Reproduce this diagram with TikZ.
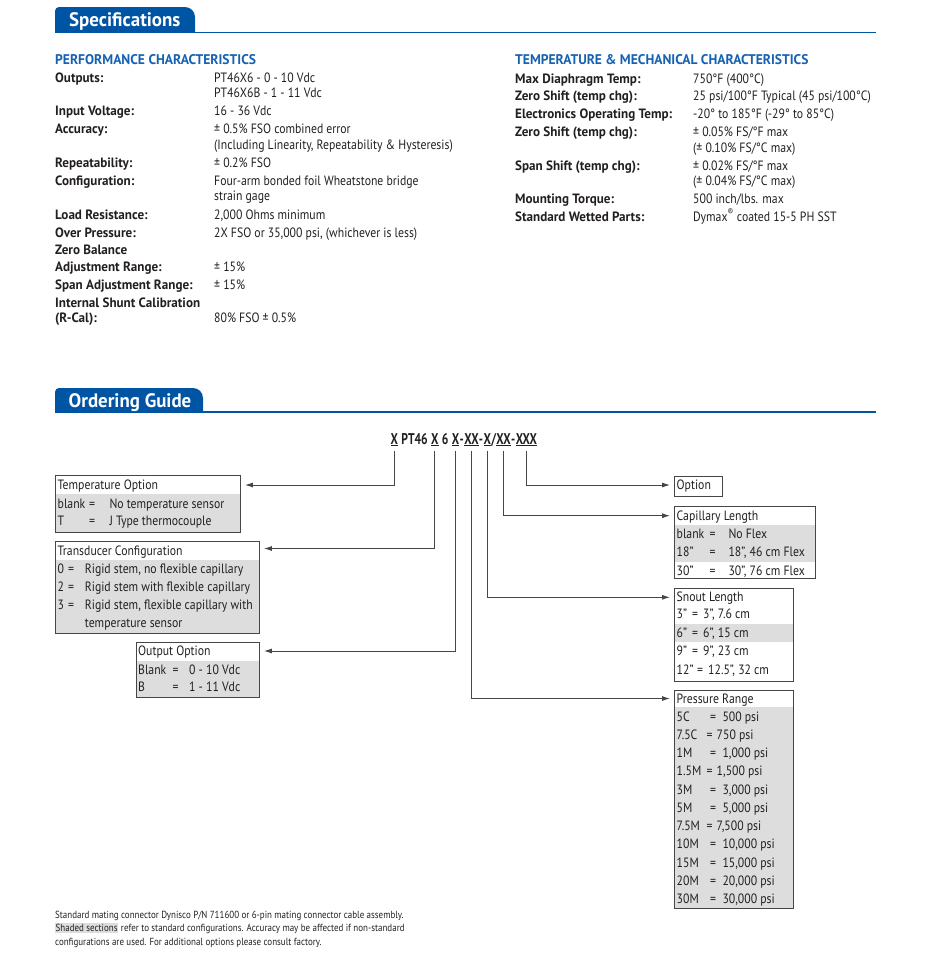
\documentclass[tikz,border=0pt]{standalone}
\usepackage{fontspec}
\setmainfont{PT Sans}[FakeStretch=0.87]
\newfontfamily\widebold{PT Sans}[FakeStretch=0.97]
\newfontfamily\codefont{PT Sans}[FakeStretch=0.75]
\usetikzlibrary{positioning,arrows.meta,backgrounds}
\definecolor{tabblue}{RGB}{0,84,164}
\definecolor{headblue}{RGB}{22,98,178}
\definecolor{ink}{RGB}{35,31,32}
\definecolor{boxgray}{RGB}{70,70,70}
\definecolor{rowshade}{RGB}{221,221,221}
\tikzset{
  lab/.style={anchor=base west, inner sep=0pt, text=ink, font=\fontsize{13.5}{15}\selectfont\widebold\bfseries},
  val/.style={anchor=base west, inner sep=0pt, text=ink, font=\fontsize{13.5}{15}\selectfont},
  head/.style={anchor=base west, inner sep=0pt, text=headblue, font=\fontsize{14}{16}\selectfont\widebold\bfseries},
  tabtxt/.style={anchor=base west, inner sep=0pt, text=white, font=\fontsize{19.5}{22}\selectfont\widebold\bfseries},
  guidebox/.style={draw=boxgray, line width=0.9pt, anchor=north west, inner sep=0pt},
  cell/.style={anchor=base west, inner sep=0pt, text=ink, font=\fontsize{13.5}{15}\selectfont},
  code/.style={inner sep=0pt, text=ink, font=\fontsize{15.5}{18}\selectfont\codefont\bfseries},
  arr/.style={draw=boxgray, line width=0.9pt, -{Latex[length=8pt,width=5pt]}, shorten >=4pt},
  foot/.style={anchor=base west, inner sep=0pt, text=ink, font=\fontsize{10.3}{12}\selectfont},
}

\begin{document}
\begin{tikzpicture}[x=1pt,y=-1pt]
  \useasboundingbox (0,0) rectangle (930,961);
  % section tabs
  \fill[tabblue] (55,32.5) [rounded corners=4pt] -- (55,7) [rounded corners=10pt] -- (195,7) [sharp corners] -- (195,32.5) -- cycle;
  \draw[tabblue, line width=1.5pt] (55,32.5) -- (876,32.5);
  \node[tabtxt] (spectab) at (69,26.7) {Specifications};
  \fill[tabblue] (55,412) [rounded corners=4pt] -- (55,388) [rounded corners=10pt] -- (203,388) [sharp corners] -- (203,412) -- cycle;
  \draw[tabblue, line width=1.5pt] (55,412) -- (876,412);
  \node[tabtxt] (ordtab) at (68.5,407) {Ordering Guide};

  % performance characteristics
  \node[head] (perfhead) at (55,64.5) {PERFORMANCE CHARACTERISTICS};
  \foreach \yb/\lab/\val [count=\i] in {
    82/Outputs:/PT46X6 - 0 - 10 Vdc,
    97//PT46X6B - 1 - 11 Vdc,
    115.5/Input Voltage:/16 - 36 Vdc,
    133.5/Accuracy:/{± 0.5\% FSO combined error},
    149//{(Including Linearity, Repeatability \& Hysteresis)},
    167.5/Repeatability:/{± 0.2\% FSO},
    185/Configuration:/Four-arm bonded foil Wheatstone bridge,
    200.5//strain gage,
    219/Load Resistance:/{2,000 Ohms minimum},
    237/Over Pressure:/{2X FSO or 35,000 psi, (whichever is less)},
    254.5/Zero Balance/,
    271/Adjustment Range:/{± 15\%},
    289/Span Adjustment Range:/{± 15\%},
    307/Internal Shunt Calibration/,
    322/(R-Cal):/{80\% FSO ± 0.5\%}
  }{
    \node[lab] (pl\i) at (55,\yb) {\lab};
    \node[val] (pv\i) at (214,\yb) {\val};
  }

  % temperature and mechanical characteristics
  \node[head] (mechhead) at (515,64) {TEMPERATURE \& MECHANICAL CHARACTERISTICS};
  \foreach \yb/\lab/\val [count=\i] in {
    83/Max Diaphragm Temp:/{750°F (400°C)},
    100/Zero Shift (temp chg):/{25 psi/100°F Typical (45 psi/100°C)},
    118/Electronics Operating Temp:/{-20° to 185°F (-29° to 85°C)},
    136/Zero Shift (temp chg):/{± 0.05\% FS/°F max},
    152//{(± 0.10\% FS/°C max)},
    170.5/Span Shift (temp chg):/{± 0.02\% FS/°F max},
    185//{(± 0.04\% FS/°C max)},
    203.5/Mounting Torque:/{500 inch/lbs. max},
    221/Standard Wetted Parts:/{Dymax\textsuperscript{®} coated 15-5 PH SST}
  }{
    \node[lab] (ml\i) at (515,\yb) {\lab};
    \node[val] (mv\i) at (693,\yb) {\val};
  }

  % model code
  \node[code, anchor=base west] (cx1) at (390.5,444) {\underline{X}};
  \node[code, base right=3pt of cx1] (cpt) {PT46};
  \node[code, base right=3pt of cpt] (cx2) {\underline{X}};
  \node[code, base right=3pt of cx2] (c6) {6};
  \node[code, base right=3pt of c6] (cx3) {\underline{X}};
  \node[code, base right=0pt of cx3] (ch1) {-};
  \node[code, base right=0pt of ch1] (cx4) {\underline{XX}};
  \node[code, base right=0pt of cx4] (ch2) {-};
  \node[code, base right=0pt of ch2] (cx5) {\underline{X}};
  \node[code, base right=0pt of cx5] (csl) {/};
  \node[code, base right=0pt of csl] (cx6) {\underline{XX}};
  \node[code, base right=0pt of cx6] (ch3) {-};
  \node[code, base right=0pt of ch3] (cx7) {\underline{XXX}};

  % option boxes
  \node[guidebox, minimum width=185pt, minimum height=57pt] (tempbox) at (55,475) {};
  \node[guidebox, minimum width=204pt, minimum height=91.5pt] (confbox) at (55,541) {};
  \node[guidebox, minimum width=123pt, minimum height=55pt] (outbox) at (136,642) {};
  \node[guidebox, minimum width=48pt, minimum height=20pt] (optnbox) at (674,476) {};
  \node[guidebox, minimum width=141pt, minimum height=72pt] (capbox) at (674,505.7) {};
  \node[guidebox, minimum width=119pt, minimum height=92.5pt] (snoutbox) at (674,588.3) {};
  \node[guidebox, minimum width=119pt, minimum height=218pt] (presbox) at (674,690) {};
  \begin{scope}[on background layer]
    \fill[rowshade] ([yshift=-19pt]tempbox.north west) rectangle (tempbox.south east);
    \fill[rowshade] ([yshift=-19pt]confbox.north west) rectangle (confbox.south east);
    \fill[rowshade] ([yshift=-19pt]outbox.north west) rectangle (outbox.south east);
    \fill[rowshade] ([yshift=-19.3pt]capbox.north west) rectangle ([yshift=-56pt]capbox.north east);
    \fill[rowshade] ([yshift=-35.5pt]snoutbox.north west) rectangle ([yshift=-53.5pt]snoutbox.north east);
    \fill[rowshade] ([yshift=-17pt]presbox.north west) rectangle (presbox.south east);
  \end{scope}

  \node[cell] (tmp0) at (57.5,489.5) {Temperature Option};
  \foreach \yb/\lab/\val [count=\i] in {508/blank/No temperature sensor, 525.5/T/J Type thermocouple}{
    \node[cell] (tmpl\i) at (57.5,\yb) {\lab};
    \node[cell] (tmpe\i) at (89,\yb) {=};
    \node[cell] (tmpv\i) at (109.3,\yb) {\val};
  }
  \node[cell] (conf0) at (57.5,555) {Transducer Configuration};
  \foreach \yb/\lab/\val [count=\i] in {573.5/0/{Rigid stem, no flexible capillary},
      591.5/2/Rigid stem with flexible capillary, 609.5/3/{Rigid stem, flexible capillary with}}{
    \node[cell] (confl\i) at (57.5,\yb) {\lab};
    \node[cell] (confe\i) at (68,\yb) {=};
    \node[cell] (confv\i) at (84.7,\yb) {\val};
  }
  \node[cell] (confv4) at (84.7,627.5) {temperature sensor};
  \node[cell] (out0) at (138,655.5) {Output Option};
  \foreach \yb/\lab/\val [count=\i] in {674/Blank/0 - 10 Vdc, 691/B/1 - 11 Vdc}{
    \node[cell] (outl\i) at (138,\yb) {\lab};
    \node[cell] (oute\i) at (172.5,\yb) {=};
    \node[cell] (outv\i) at (189,\yb) {\val};
  }
  \node[cell] (optn0) at (676.5,489.5) {Option};
  \node[cell] (cap0) at (676.5,520.2) {Capillary Length};
  \foreach \yb/\lab/\val [count=\i] in {538.8/blank/No Flex,
      556.8/18”/{18”, 46 cm Flex}, 575/30”/{30”, 76 cm Flex}}{
    \node[cell] (capl\i) at (676.5,\yb) {\lab};
    \node[cell] (cape\i) at (709.5,\yb) {=};
    \node[cell] (capv\i) at (728.3,\yb) {\val};
  }
  \node[cell] (snout0) at (676.5,601) {Snout Length};
  \foreach \yb/\lab/\ex/\vx/\val [count=\i] in {618.5/3”/692/703/{3”, 7.6 cm},
      637/6”/692/703/{6”, 15 cm}, 655/9”/692/703/{9”, 23 cm}, 674/12”/697/708/{12.5”, 32 cm}}{
    \node[cell] (snoutl\i) at (676.5,\yb) {\lab};
    \node[cell] (snoute\i) at (\ex,\yb) {=};
    \node[cell] (snoutv\i) at (\vx,\yb) {\val};
  }
  \node[cell] (pres0) at (676.5,703) {Pressure Range};
  \foreach \lab/\ex/\vx/\val [count=\i] in {5C/710/722.3/500 psi, 7.5C/706.5/716.5/750 psi,
      1M/710/722.3/{1,000 psi}, 1.5M/706.5/716.5/{1,500 psi}, 3M/710/722.3/{3,000 psi},
      5M/710/722.3/{5,000 psi}, 7.5M/706.5/716.5/{7,500 psi}, 10M/710/722.3/{10,000 psi},
      15M/710/722.3/{15,000 psi}, 20M/710/722.3/{20,000 psi}, 30M/710/722.3/{30,000 psi}}{
    \pgfmathsetmacro\yb{702.97+18.23*\i}
    \node[cell] (presl\i) at (676.5,\yb) {\lab};
    \node[cell] (prese\i) at (\ex,\yb) {=};
    \node[cell] (presv\i) at (\vx,\yb) {\val};
  }

  % leaders from the code
  \draw[arr] ([yshift=-5pt]cx1.south) |- ([yshift=-10pt]tempbox.north east);
  \draw[arr] ([yshift=-5pt]cx2.south) |- ([yshift=-7.5pt]confbox.north east);
  \draw[arr] ([yshift=-5pt]cx3.south) |- ([yshift=-9pt]outbox.north east);
  \draw[arr] ([yshift=-5pt]cx4.south) |- ([yshift=-8.5pt]presbox.north west);
  \draw[arr] ([yshift=-5pt]cx5.south) |- ([yshift=-9pt]snoutbox.north west);
  \draw[arr] ([yshift=-5pt]cx6.south) |- ([yshift=-10pt]capbox.north west);
  \draw[arr] ([yshift=-5pt]cx7.south) |- ([yshift=-9pt]optnbox.north west);

  % footnote
  \node[foot] (fn1) at (55,918) {Standard mating connector Dynisco P/N 711600 or 6-pin mating connector cable assembly.};
  \node[foot, fill=rowshade, inner ysep=1.5pt, inner xsep=0.5pt] (fn2a) at (55,931.5) {Shaded sections};
  \node[foot, base right=2.5pt of fn2a] (fn2b) {refer to standard configurations. Accuracy may be affected if non-standard};
  \node[foot] (fn3) at (55,945) {configurations are used. For additional options please consult factory.};
\end{tikzpicture}
\end{document}
